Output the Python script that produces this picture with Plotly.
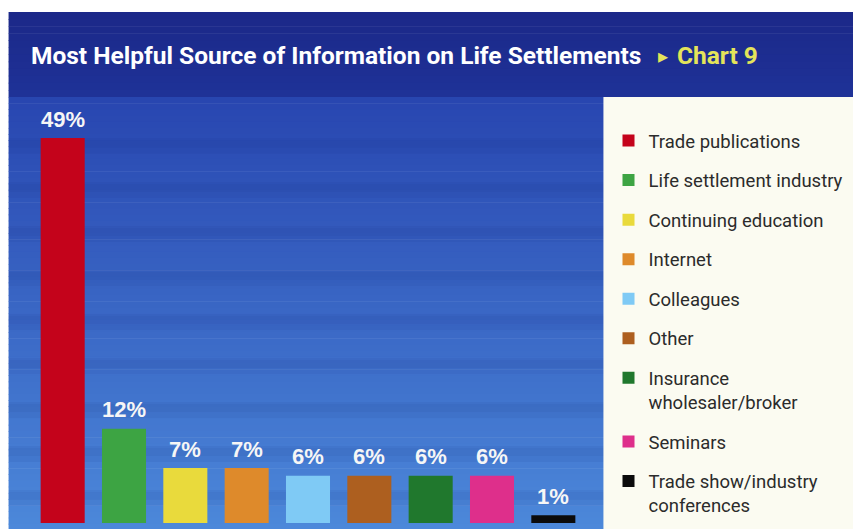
import plotly.graph_objects as go

# --- data ---------------------------------------------------------------
categories = [
    "Trade publications",
    "Life settlement industry",
    "Continuing education",
    "Internet",
    "Colleagues",
    "Other",
    "Insurance<br>wholesaler/broker",
    "Seminars",
    "Trade show/industry<br>conferences",
]
values = [49, 12, 7, 7, 6, 6, 6, 6, 1]
value_labels = [f"{v}%" for v in values]
bar_colors = [
    "#c4031b", "#3da443", "#e9da3c", "#de8a2b", "#7fcaf5",
    "#ad5f1f", "#20782d", "#de2f8b", "#0b0b0b",
]
title_text = "Most Helpful Source of Information on Life Settlements"
chart_tag = "Chart 9"

# --- layout geometry (pixels) ---------------------------------------------
FIG_W, FIG_H = 853, 529
PLOT_L, PLOT_R = 32.4, 583.6
PLOT_T, PLOT_B = 98, 523
Y_MAX = (PLOT_B - PLOT_T) / 7.857


def px(x):
    return (x - PLOT_L) / (PLOT_R - PLOT_L)


def py(y):
    return (PLOT_B - y) / (PLOT_B - PLOT_T)


def lerp_rgb(c0, c1, t):
    return "rgb({},{},{})".format(*[round(a + (b - a) * t) for a, b in zip(c0, c1)])


shapes = []


def band(y0, y1, c0, c1, steps):
    for k in range(steps):
        ya = y0 + (y1 - y0) * k / steps
        yb = y0 + (y1 - y0) * (k + 1) / steps + 0.6
        shapes.append(dict(
            type="rect", xref="paper", yref="paper", layer="below",
            x0=px(9), x1=px(FIG_W + 1), y0=py(yb), y1=py(ya),
            fillcolor=lerp_rgb(c0, c1, (k + 0.5) / steps), line_width=0,
        ))


# dark header and lighter graded panel
band(12, 97, (27, 40, 136), (31, 50, 152), 12)
band(97, FIG_H + 1, (40, 70, 176), (76, 136, 218), 70)

# soft horizontal banding across the panel
for ys in range(138, 520, 44):
    for off, h, a in ((0, 16, 0.06), (2, 8, 0.05)):
        shapes.append(dict(
            type="rect", xref="paper", yref="paper", layer="below",
            x0=px(9), x1=px(FIG_W + 1), y0=py(ys + off + h), y1=py(ys + off),
            fillcolor=f"rgba(20,30,120,{a})", line_width=0,
        ))

# legend panel
shapes.append(dict(
    type="rect", xref="paper", yref="paper", layer="below",
    x0=px(603), x1=px(FIG_W + 1), y0=py(FIG_H + 1), y1=py(97),
    fillcolor="#fbfbf1", line_width=0,
))

fig = go.Figure()
for i, (cat, val, col) in enumerate(zip(categories, values, bar_colors)):
    fig.add_trace(go.Bar(
        x=[i], y=[val], name=cat, legendgroup=f"g{i}",
        marker=dict(color=col, line_width=0),
        hoverinfo="skip",
    ))

label_font = dict(family="Liberation Sans, Arial, sans-serif", size=22,
                  color="#f6f6f6", weight="bold")
annotations = [
    dict(text=lab, x=i, y=val, xref="x", yref="y", xanchor="center",
         yanchor="middle", yshift=19, showarrow=False, font=label_font)
    for i, (val, lab) in enumerate(zip(values, value_labels))
]

head_font = dict(family="Roboto, Liberation Sans, sans-serif", size=24.5, weight="bold")
annotations += [
    dict(text=title_text, xref="paper", yref="paper", x=px(29), y=py(55),
         xanchor="left", yanchor="middle", showarrow=False,
         font=dict(head_font, color="#ffffff")),
    dict(text="\u25b8", xref="paper", yref="paper", x=px(655), y=py(56),
         xanchor="left", yanchor="middle", showarrow=False,
         font=dict(family="DejaVu Sans", size=20, color="#e4e45a")),
    dict(text=chart_tag, xref="paper", yref="paper", x=px(674), y=py(55),
         xanchor="left", yanchor="middle", showarrow=False,
         font=dict(head_font, color="#e4e45a")),
]

fig.update_layout(
    width=FIG_W, height=FIG_H,
    margin=dict(l=PLOT_L, r=FIG_W - PLOT_R, t=PLOT_T, b=FIG_H - PLOT_B, pad=0,
                autoexpand=False),
    paper_bgcolor="#ffffff", plot_bgcolor="rgba(0,0,0,0)",
    barmode="overlay", bargap=0.282,
    xaxis=dict(range=[-0.5, 8.5], visible=False, fixedrange=True),
    yaxis=dict(range=[0, Y_MAX], visible=False, fixedrange=True),
    showlegend=True,
    legend=dict(
        x=608.5 / FIG_W, xanchor="left", xref="container",
        y=1 - 122 / FIG_H, yanchor="top", yref="container",
        bgcolor="rgba(0,0,0,0)", borderwidth=0,
        font=dict(family="Roboto, Liberation Sans, sans-serif", size=18.5, color="#2b2b2b"),
        tracegroupgap=12.5, valign="top", traceorder="grouped",
        maxheight=1000,
    ),
    shapes=shapes, annotations=annotations,
)

fig.write_html("out.html")
